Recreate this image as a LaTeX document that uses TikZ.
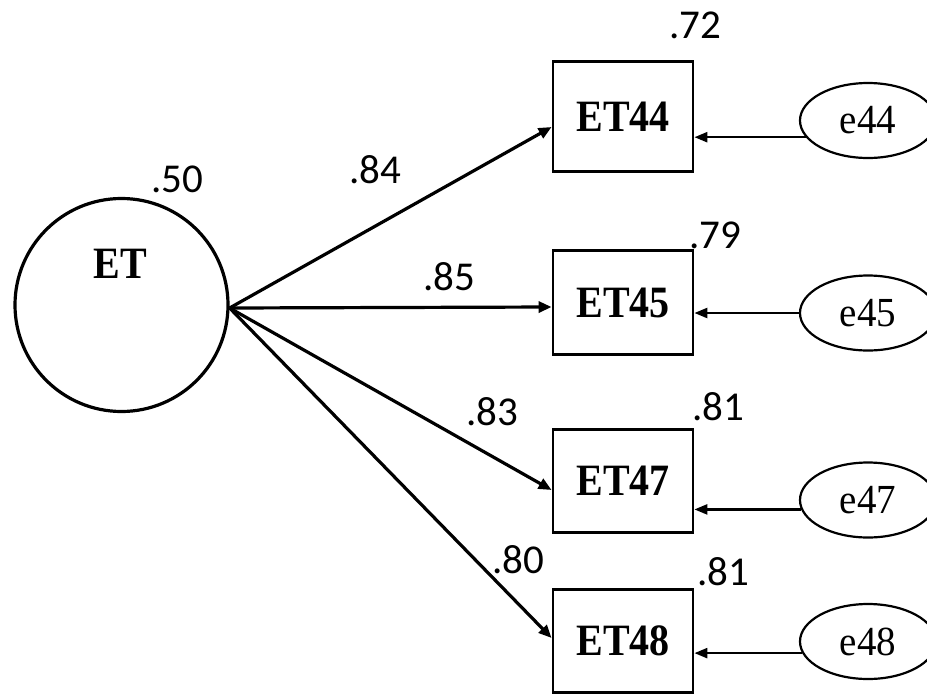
\documentclass[tikz,border=0pt]{standalone}
\usepackage{fontspec}
\setmainfont{Liberation Serif}
\newfontfamily\numfont{Carlito}
\usetikzlibrary{arrows.meta,shapes.geometric}
\newcommand{\tall}[1]{\scalebox{1}[1.12]{#1}}
\begin{document}
\begin{tikzpicture}[x=1pt,y=-1pt,
  latent/.style={circle,draw,line width=3.2pt,minimum size=213pt,inner sep=0pt},
  lbl/.style={inner sep=0pt,font=\fontsize{40}{48}\selectfont\bfseries},
  obs/.style={draw,line width=2.8pt,rectangle,minimum width=140pt,inner sep=0pt,font=\fontsize{40}{48}\selectfont\bfseries},
  err/.style={draw,line width=2.2pt,ellipse,minimum width=136pt,minimum height=75pt,inner sep=0pt,font=\fontsize{39}{46}\selectfont},
  coef/.style={inner sep=0pt,anchor=base,font=\numfont\fontsize{41}{49}\selectfont},
  load/.style={line width=3.2pt,-{Triangle[length=13pt,width=11pt]}},
  res/.style={line width=2.4pt,-{Triangle[length=13pt,width=10pt]}}]
\useasboundingbox (0,0) rectangle (927,694);
\clip (0,0) rectangle (927,694);

% latent variable
\node[latent] (ET) at (121.5,305) {};
\node[lbl] (ETt) at (120,264) {\tall{ET}};

% observed variables
\node[obs,minimum height=110pt] (b44) at (623,116.5) {\tall{ET44}};
\node[obs,minimum height=104pt] (b45) at (623,302.5) {\tall{ET45}};
\node[obs,minimum height=103pt] (b47) at (623,481) {\tall{ET47}};
\node[obs,minimum height=103pt] (b48) at (623,641) {\tall{ET48}};

% error terms
\node[err] (e44) at (868,120.5) {\scalebox{1}[1.06]{e44}};
\node[err] (e45) at (868,313) {\scalebox{1}[1.06]{e45}};
\node[err] (e47) at (868,500) {\scalebox{1}[1.06]{e47}};
\node[err] (e48) at (868,641.5) {\scalebox{1}[1.06]{e48}};

% loadings
\coordinate (src) at ([yshift=-3pt]ET.east);
\draw[load] (src) -- ([yshift=-10.5pt]b44.west);
\draw[load] (src) -- ([yshift=-4.5pt]b45.west);
\draw[load] (src) -- ([yshift=-9pt]b47.west);
\draw[load] (src) -- ([yshift=3pt]b48.west);

% residual arrows
\draw[res] (e44.195) -- (e44.195 -| b44.east);
\draw[res] (e45.west) -- (e45.west -| b45.east);
\draw[res] (e47.188.6) -- (e47.188.6 -| b47.east);
\draw[res] (e48.190.5) -- (e48.190.5 -| b48.east);

% coefficients
\node[coef] (c50) at (177,192) {.50};
\node[coef] (c84) at (375,183) {.84};
\node[coef] (c85) at (449,290) {.85};
\node[coef] (c83) at (492,425) {.83};
\node[coef] (c80) at (518,573) {.80};
\node[coef] (r44) at (695,38) {.72};
\node[coef] (r45) at (715,248) {.79};
\node[coef] (r47) at (718,420) {.81};
\node[coef] (r48) at (723,585) {.81};
\end{tikzpicture}
\end{document}
